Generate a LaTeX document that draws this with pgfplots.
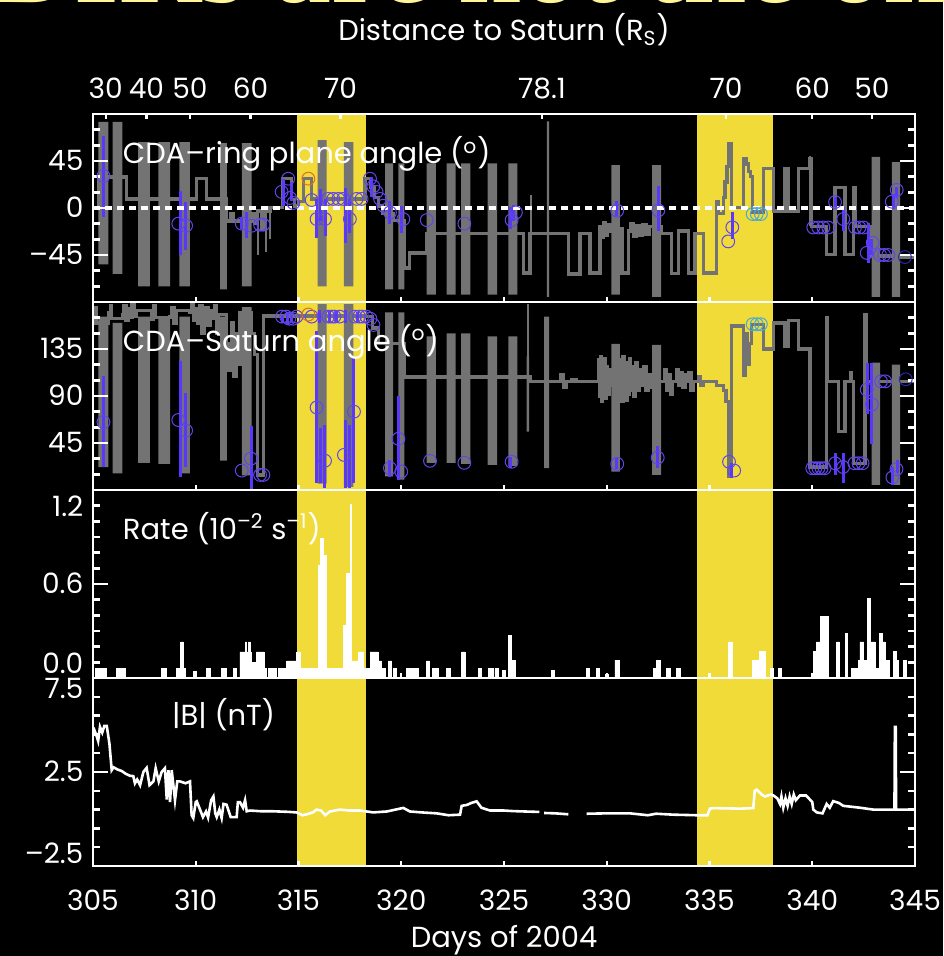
\documentclass[border=0pt]{standalone}
\usepackage{fontspec}
\setmainfont{Poppins}
\newfontfamily\titlefont{Liberation Serif}
\usepackage{pgfplots}
\pgfplotsset{compat=1.18}

\definecolor{band}{RGB}{241,219,56}
\definecolor{gr}{RGB}{115,115,115}
\definecolor{bl}{RGB}{90,55,250}
\definecolor{cb}{RGB}{95,70,235}
\definecolor{orng}{RGB}{225,110,40}
\definecolor{cyn}{RGB}{70,170,215}
\definecolor{navy}{RGB}{40,40,170}
\definecolor{ttl}{RGB}{255,245,150}

\newcommand\tickfont{\fontsize{14}{16}\selectfont}
\newcommand\labfont{\fontsize{14.5}{17}\selectfont}
\newcommand\degsym{(\textsuperscript{o})}

\pgfplotsset{
  panel/.style={
    scale only axis, width=411pt, height=94pt,
    xmin=305, xmax=345,
    axis on top,
    axis line style={white, line width=1.2pt},
    tick style={white, line width=1.2pt},
    tick align=inside,
    major tick length=7.5pt, minor tick length=3.5pt,
    xtick={305,310,...,345},
    xtick pos=left,
    xtick style={/pgfplots/major tick length=2.5pt},
    xticklabels={},
    yticklabel pos=left,
    tick label style={white, font=\tickfont},
    yticklabel style={anchor=base east, yshift=-4.9pt, xshift=-1.3pt},
    anchor=south west,
  },
  circ/.style={only marks, mark=o, mark size=3.2pt, mark options={line width=0.5pt}},
}

\begin{document}
\begin{tikzpicture}[x=1pt,y=1pt]
\useasboundingbox (0,0) rectangle (471.5,478);
\fill[black] (0,0) rectangle (471.5,478);
\node[anchor=base west, text=ttl, font=\titlefont\bfseries\fontsize{57}{60}\selectfont, inner sep=0pt] at (-4,476.5) {DIRs are not the only};

% ---------------- Panel 1: CDA-ring plane angle
\begin{axis}[panel, at={(46.5pt,327pt)}, ymin=-90, ymax=90,
  ytick={-90,-45,0,45,90}, yticklabels={{},–45,0,45,{}}, minor y tick num=2]
\addplot[fill=band, draw=none] coordinates {(314.93,-90)(318.28,-90)(318.28,90)(314.93,90)};
\addplot[fill=band, draw=none] coordinates {(334.39,-90)(338.09,-90)(338.09,90)(334.39,90)};
\addplot[fill=gr, draw=none, unbounded coords=jump] coordinates {
(305.26,-54)(305.75,-54)(305.75,82.5)(305.26,82.5)(305.26,nan)
(305.96,-63)(306.43,-63)(306.43,82.5)(305.96,82.5)(305.96,nan)
(307.20,-75)(307.77,-75)(307.77,63)(307.20,63)(307.20,nan)
(308.18,-75)(308.75,-75)(308.75,63)(308.18,63)(308.18,nan)
(309.20,-75)(309.72,-75)(309.72,63)(309.20,63)(309.20,nan)
(311.18,-78)(311.51,-78)(311.51,62)(311.18,62)(311.18,nan)
(312.24,-75)(312.72,-75)(312.72,62)(312.24,62)(312.24,nan)
(315.93,-75)(316.37,-75)(316.37,65)(315.93,65)(315.93,nan)
(317.21,-75)(317.67,-75)(317.67,63)(317.21,63)(317.21,nan)
(319.21,-78)(319.61,-78)(319.61,42.6)(319.21,42.6)(319.21,nan)
(319.86,-78)(320.15,-78)(320.15,42.6)(319.86,42.6)(319.86,nan)
(321.24,-83)(321.68,-83)(321.68,42.6)(321.24,42.6)(321.24,nan)
(322.21,-83)(322.65,-83)(322.65,42.6)(322.21,42.6)(322.21,nan)
(322.91,-83)(323.36,-83)(323.36,42.6)(322.91,42.6)(322.91,nan)
(324.20,-83)(324.66,-83)(324.66,42.6)(324.20,42.6)(324.20,nan)
(325.21,-83)(325.65,-83)(325.65,42.6)(325.21,42.6)(325.21,nan)
(327.08,-85)(327.20,-85)(327.20,82.9)(327.08,82.9)(327.08,nan)
(330.22,-83)(330.64,-83)(330.64,41)(330.22,41)(330.22,nan)
(332.21,-85)(332.65,-85)(332.65,41)(332.21,41)(332.21,nan)
(342.89,-85)(343.30,-85)(343.30,49)(342.89,49)(342.89,nan)
(343.87,-85)(344.27,-85)(344.27,44)(343.87,44)
};
\addplot[gr, line width=1.7pt, const plot] coordinates {
(305.00,0)(305.26,29.6)(306.64,8.7)(310.05,28)(310.53,8.7)(311.51,-12.3)(311.70,-5)(311.83,-12.3)
(312.72,-5)(312.85,-15)(313.00,-3)(313.20,-20)(313.35,-3)(313.61,0.6)(314.23,28)(314.67,8)(314.80,2)
(315.00,6)(315.23,28)(315.64,8.7)(318.24,28)(318.50,20)(318.70,10)(318.90,2)(319.10,-5)(319.61,-12)
(320.15,-57.5)(320.40,-43)(321.24,-24.6)(325.67,-24.6)(325.94,-62.3)(326.27,-24.6)(327.20,-24.6)
(328.13,-63.3)(328.70,-24.6)(329.18,-62.3)(329.67,-18)(329.75,-28)(329.85,-14)(329.95,-26)(330.05,-16)
(330.15,-22)(330.64,-20)(330.75,-62.3)(331.05,-22)(331.15,-15)(331.30,-27)(331.45,-17)(331.60,-26)
(331.75,-16)(331.90,-25)(332.05,-18)(332.64,-24.6)(333.16,-63)(333.48,-22)(333.97,-62.3)(334.29,-24.6)
(334.70,-62.3)(335.35,6.4)(335.43,-5)(335.67,10)(335.75,25)(335.85,40)(335.95,62)(336.08,0.6)
(336.65,47.4)(336.80,42)(336.90,35)(337.00,30)(337.10,-4)(337.62,37.7)(338.11,-3)(338.68,37.7)
(338.84,-3)(339.33,37.7)(339.89,47)(339.97,-17.5)(340.70,-44.5)(341.11,19.4)(341.59,-44.5)
(342.00,19.4)(342.11,-17.5)(342.89,-46)(344.27,-47)(345.00,-47)
};
\addplot[gr, line width=1pt, unbounded coords=jump] coordinates {
(305.02,-20)(305.02,8)(305.02,nan)(313.05,-45)(313.05,-5)(313.05,nan)(313.40,-42)(313.40,-5)(313.40,nan)
(313.62,-30)(313.62,0)(313.62,nan)(326.30,-62)(326.30,12)(326.30,nan)(339.90,-17)(339.90,50)
};
\addplot[bl, line width=1.5pt, unbounded coords=jump] coordinates {
(305.51,-8.4)(305.51,69)(305.51,nan)(309.28,-45.2)(309.28,15.8)(309.28,nan)(309.48,-40.7)(309.48,5.4)(309.48,nan)
(312.24,-20)(312.24,-10)(312.24,nan)(312.48,-28.5)(312.48,-4.3)(312.48,nan)(314.26,2.2)(314.26,28)(314.26,nan)
(314.67,7)(314.67,24.8)(314.67,nan)(315.88,-28.5)(315.88,8.7)(315.88,nan)(316.09,-12.3)(316.09,18.4)(316.09,nan)
(316.29,-26.8)(316.29,8.7)(316.29,nan)(317.30,-33.3)(317.30,19.4)(317.30,nan)(317.48,-23.7)(317.48,8.7)(317.48,nan)
(318.56,10.3)(318.56,29.6)(318.56,nan)(319.45,-15.5)(319.45,7)(319.45,nan)(320.02,-23.6)(320.02,2.2)(320.02,nan)
(325.32,-20.3)(325.32,0.6)(325.32,nan)(325.45,-12)(325.45,3)(325.45,nan)(330.48,-7.5)(330.48,6.4)(330.48,nan)
(332.51,-22)(332.51,20.6)(332.51,nan)(336.11,-30)(336.11,-4.3)(336.11,nan)(341.11,0.6)(341.11,10.3)(341.11,nan)
(341.51,-22)(341.51,0.6)(341.51,nan)(342.73,-52.7)(342.73,-14)(342.73,nan)(342.89,-45)(342.89,-30)(342.89,nan)
(343.94,-1)(343.94,13.5)(343.94,nan)(344.11,10)(344.11,20)
};
\addplot[circ, cb] coordinates {
(305.51,30.6)(309.15,-15)(309.53,-17)(312.24,-15)(312.72,-17)(313.13,-16)(313.29,-16)
(314.18,15.4)(314.5,28)(314.59,9.6)(314.75,4.8)(315.64,7.6)(316.45,8.7)(316.69,8.7)(316.94,8.7)
(317.18,8.7)(317.83,8.7)(318.07,8.7)(315.88,-10.6)(316.29,-10.6)(317.5,-10.6)
(318.48,28)(318.64,20.7)(318.8,15.4)(318.97,8.7)(319.13,2.2)(319.45,-4.3)
(320.1,-10.7)(321.24,-11.6)(323.07,-15)(325.37,-11.6)(325.58,-4.3)(330.51,-2.6)(332.51,-2.3)
(335.91,-32)(336.11,-18.5)(340.05,-18.7)(340.29,-18.7)(340.54,-18.7)(340.78,-18.7)
(341.11,5.7)(341.51,-10.6)(342.08,-18.7)(342.3,-18.7)(342.5,-18.7)(342.65,-43)(342.94,-33.4)
(343.3,-45)(343.5,-45)(343.7,-45)(343.87,6)(344.11,17.3)
};
\addplot[circ, orng] coordinates {(315.48,28.1)};
\addplot[circ, cyn] coordinates {(337.1,-5.8)(337.3,-5.8)(337.5,-5.8)};
\addplot[circ, navy] coordinates {(344.51,-47)};
\addplot[white, line width=1.6pt, dash pattern=on 3.5pt off 2.5pt] coordinates {(305,0)(345,0)};
\node[anchor=base west, white, font=\labfont, inner sep=0pt] at (axis cs:306.44,42.6) {CDA–ring plane angle \degsym};
\end{axis}

% top distance axis
\begin{axis}[scale only axis, width=411pt, height=94pt, at={(46.5pt,327pt)}, anchor=south west,
  xmin=305, xmax=345, ymin=0, ymax=1, hide y axis, axis x line*=top,
  axis line style={white, line width=1.2pt},
  tick align=inside,
  xtick={305.62,307.6,309.72,312.67,317.05,326.85,335.8,340.0,342.9},
  xticklabels={30,40,50,60,70,78.1,70,60,50},
  xtick style={white, line width=1.2pt, /pgfplots/major tick length=2.5pt},
  xticklabel style={white, font=\tickfont, anchor=base, yshift=7.5pt},
  xlabel={Distance to Saturn (R\textsubscript{S})},
  xlabel style={white, font=\labfont, at={(axis description cs:0.5,1)}, anchor=base, yshift=36.5pt}]
\addplot[draw=none] coordinates {(305,0.5)};
\end{axis}

% ---------------- Panel 2: CDA-Saturn angle
\begin{axis}[panel, at={(46.5pt,233pt)}, ymin=0, ymax=180,
  ytick={0,45,90,135,180}, yticklabels={{},45,90,135,{}}, minor y tick num=2]
\addplot[fill=band, draw=none] coordinates {(314.93,0)(318.28,0)(318.28,180)(314.93,180)};
\addplot[fill=band, draw=none] coordinates {(334.39,0)(338.09,0)(338.09,180)(334.39,180)};
\addplot[fill=gr, draw=none, unbounded coords=jump] coordinates {
(305.26,22)(305.75,22)(305.75,166)(305.26,166)(305.26,nan)
(305.96,16)(306.43,16)(306.43,160)(305.96,160)(305.96,nan)
(307.20,26)(307.77,26)(307.77,166)(307.20,166)(307.20,nan)
(308.18,25)(308.75,25)(308.75,166)(308.18,166)(308.18,nan)
(309.20,16)(309.72,16)(309.72,166)(309.20,166)(309.20,nan)
(311.18,28)(311.51,28)(311.51,166)(311.18,166)(311.18,nan)
(312.24,14)(312.72,14)(312.72,175)(312.24,175)(312.24,nan)
(315.93,6)(316.37,6)(316.37,178)(315.93,178)(315.93,nan)
(317.21,3)(317.67,3)(317.67,178)(317.21,178)(317.21,nan)
(319.21,13)(319.61,13)(319.61,170)(319.21,170)(319.21,nan)
(319.86,10)(320.15,10)(320.15,170)(319.86,170)(319.86,nan)
(321.24,26)(321.68,26)(321.68,147)(321.24,147)(321.24,nan)
(322.21,26)(322.65,26)(322.65,150)(322.21,150)(322.21,nan)
(322.91,25)(323.36,25)(323.36,150)(322.91,150)(322.91,nan)
(324.20,24)(324.66,24)(324.66,147)(324.20,147)(324.20,nan)
(325.21,23)(325.65,23)(325.65,147)(325.21,147)(325.21,nan)
(326.10,56)(326.22,56)(326.22,128)(326.10,128)(326.10,nan)
(326.95,21)(327.19,21)(327.19,166)(326.95,166)(326.95,nan)
(330.22,17.6)(330.64,17.6)(330.64,140)(330.22,140)(330.22,nan)
(332.21,14.4)(332.65,14.4)(332.65,139)(332.21,139)(332.21,nan)
(342.89,4.8)(343.30,4.8)(343.30,122)(342.89,122)(342.89,nan)
(343.87,4.8)(344.27,4.8)(344.27,120)(343.87,120)
};
\addplot[gr, line width=1.7pt, const plot] coordinates {
(305.00,165)(305.08,175)(305.15,160)(305.75,170)(305.85,176)(305.90,164)(306.43,168)(306.50,176)(306.60,162)
(306.70,174)(306.80,165)(306.90,177)(307.00,166)(307.10,172)(307.77,172)(307.85,163)(307.95,176)(308.05,165)
(308.75,166)(308.85,175)(308.95,160)(309.05,172)(309.72,170)(309.80,178)(309.90,162)(310.00,174)(310.10,160)
(310.20,176)(310.30,150)(310.40,165)(310.50,175)(310.60,158)(310.70,172)(310.80,164)(310.90,176)(311.00,150)
(311.10,168)(311.51,140)(311.60,115)(311.75,160)(311.85,109)(311.95,150)(312.05,120)(312.15,170)(312.72,150)
(312.85,130)(313.00,14.4)(313.30,166.7)(318.24,166)(318.60,155)(318.90,140)(319.61,140)(320.15,108)
(326.27,104)(327.20,104)(327.75,110)(327.90,98)(328.05,104)(328.30,106)(328.50,104)
(329.60,125)(329.65,90)(329.70,128)(329.75,85)(329.80,120)(329.85,95)(329.90,126)(329.95,88)(330.00,118)
(330.05,92)(330.10,115)(330.15,100)(330.70,125)(330.75,85)(330.80,128)(330.85,90)(330.90,122)(330.95,86)
(331.00,120)(331.05,92)(331.10,126)(331.15,95)(331.20,118)(331.30,90)(331.40,122)(331.50,95)(331.60,115)
(331.70,100)(331.80,118)(331.90,95)(332.00,110)(332.10,98)(332.20,104)(332.80,115)(332.90,95)(333.00,110)
(333.10,92)(333.20,104)(333.40,115)(333.50,100)(333.60,112)(333.70,98)(333.80,110)(333.90,104)(334.00,112)
(334.10,95)(334.20,104)(334.45,108)(334.55,100)(334.70,104)(335.35,100)(335.67,95)(335.80,85)(335.92,12.8)
(336.08,157)(336.65,110)(336.75,150)(336.85,120)(336.95,140)(337.05,158.7)(337.62,135)(338.11,160)
(338.67,138)(338.84,162)(339.33,135)(339.89,22)(340.70,165)(340.74,104)(341.27,56)(341.59,104)(341.85,112)
(341.90,104)(342.00,25.6)(342.57,168)(342.65,104)(345.00,104)
};
\addplot[gr, line width=1pt] coordinates {(326.18,104)(326.18,178)};
\addplot[bl, line width=1.5pt, unbounded coords=jump] coordinates {
(305.51,22.4)(305.51,109)(305.51,nan)(309.28,12.8)(309.28,123.4)(309.28,nan)(309.48,22.4)(309.48,92.9)(309.48,nan)
(312.69,0.9)(312.69,61.5)(312.69,nan)(315.88,6.4)(315.88,152)(315.88,nan)(316.05,6.4)(316.05,59.3)(316.05,nan)
(316.26,1.6)(316.26,62.5)(316.26,nan)(317.30,1.6)(317.30,67)(317.30,nan)(317.48,1.6)(317.48,62.5)(317.48,nan)
(317.67,6.4)(317.67,126.6)(317.67,nan)(319.86,9.6)(319.86,89.7)(319.86,nan)(319.45,12.8)(319.45,29)(319.45,nan)
(325.32,20.8)(325.32,32)(325.32,nan)(330.48,19.7)(330.48,31)(330.48,nan)(332.48,20.8)(332.48,41.7)(332.48,nan)
(336.08,11.2)(336.08,25.6)(336.08,nan)(341.11,14.4)(341.11,35.3)(341.11,nan)(341.51,6.4)(341.51,35.3)(341.51,nan)
(342.69,72.4)(342.69,122)(342.69,nan)(342.89,43.6)(342.89,122)(342.89,nan)(343.90,4.8)(343.90,22.4)(343.90,nan)
(344.14,16)(344.14,28.8)(344.14,nan)
(314.20,160)(314.20,168)(314.20,nan)(314.45,158)(314.45,170)(314.45,nan)(314.67,160)(314.67,168)(314.67,nan)
(316.00,160)(316.00,172)(316.00,nan)(316.50,160)(316.50,172)(316.50,nan)(316.85,160)(316.85,172)(316.85,nan)
(317.30,160)(317.30,172)(317.30,nan)(317.85,160)(317.85,170)
};
\addplot[circ, cb] coordinates {
(305.51,65)(309.15,67)(309.53,57)(312.24,18.6)(312.69,30)(313.13,14.4)(313.29,14.4)
(314.2,166)(314.4,166)(314.55,164)(314.75,164)(314.9,166)(315.64,166)(316.45,166)(316.6,166)(316.75,166)
(317.0,166)(317.75,166)(317.95,166)(318.1,166)(318.3,166)(318.5,164)(318.65,158)
(315.88,79)(316.29,28)(317.21,33.6)(317.7,75)
(319.86,49)(319.45,21)(320.0,17.6)(321.4,27.9)(323.07,26)(325.37,27)(330.51,25)
(332.48,31)(335.95,27)(336.2,18.6)
(340.0,20.8)(340.15,20.8)(340.3,20.8)(340.45,20.8)(340.6,20.8)
(341.11,25.6)(341.5,22)(342.05,25.6)(342.25,25.6)(342.45,25.6)
(342.65,96)(342.9,82)(343.35,104)(343.55,104)(343.9,12)(344.1,20)
};
\addplot[circ, orng] coordinates {(315.48,168)};
\addplot[circ, cyn] coordinates {(337.1,158.7)(337.3,158.7)(337.5,158.7)};
\addplot[circ, navy] coordinates {(344.55,106)};
\node[anchor=base west, white, font=\labfont, inner sep=0pt] at (axis cs:306.44,133) {CDA–Saturn angle \degsym};
\end{axis}

% ---------------- Panel 3: Rate
\begin{axis}[panel, at={(46.5pt,139pt)}, ymin=0, ymax=1.2,
  ytick={0,0.6,1.2}, yticklabels={\raisebox{7pt}{0.0},0.6,\raisebox{-8.5pt}{1.2}}, minor y tick num=5]
\addplot[fill=band, draw=none] coordinates {(314.93,0)(318.28,0)(318.28,1.2)(314.93,1.2)};
\addplot[fill=band, draw=none] coordinates {(334.39,0)(338.09,0)(338.09,1.2)(334.39,1.2)};
\addplot[const plot, fill=white, draw=white, line width=0.4pt] coordinates {
(305.00,0)(305.10,0.06)(305.67,0)(306.15,0.06)(306.56,0)(308.34,0.06)(308.55,0)(309.07,0.06)(309.27,0.23)
(309.40,0.06)(309.48,0)(309.88,0.04)(310.05,0)(310.53,0.06)(310.73,0)(311.26,0.06)(311.50,0)(311.83,0.06)
(311.99,0)(312.15,0.166)(312.40,0.23)(312.48,0.166)(312.56,0.23)(312.64,0.166)(312.72,0.1)(312.96,0.166)
(313.32,0.06)(313.45,0)(313.53,0.06)(313.94,0)(314.02,0.06)(314.43,0.109)(314.91,0.166)(315.07,0.06)
(315.96,0.72)(316.05,0.89)(316.21,0.78)(316.38,0.06)(317.19,0.336)(317.35,0.666)(317.51,1.11)(317.56,0.109)
(317.91,0.166)(318.15,0.06)(318.48,0.166)(318.88,0.109)(319.04,0.06)(319.21,0)(319.37,0.109)(319.53,0)
(319.61,0.06)(319.77,0)(320.26,0.06)(320.83,0)(321.24,0.109)(321.37,0)(321.53,0.06)(321.80,0)(322.21,0.06)
(322.37,0)(322.94,0.166)(323.10,0)(323.75,0.06)(323.90,0)(324.24,0.06)(324.48,0)(324.56,0.06)(324.72,0)
(324.94,0.05)(325.05,0)(325.21,0.27)(325.37,0.114)(325.54,0)(327.32,0.05)(327.44,0)(329.00,0.06)(329.15,0)
(329.48,0.06)(329.64,0)(329.95,0.02)(330.08,0)(330.40,0.114)(330.61,0)(332.27,0.06)(332.43,0.114)(332.59,0)
(332.92,0.06)(333.08,0)(333.40,0.06)(333.56,0)(334.94,0.02)(335.05,0)(335.92,0.23)(336.11,0)(337.10,0.114)
(337.43,0.17)(337.70,0)(337.95,0.06)(338.11,0)(338.35,0.06)(338.52,0)(339.98,0.02)(340.06,0.17)(340.22,0.23)
(340.38,0.39)(340.79,0)(341.19,0.23)(341.32,0)(341.60,0.283)(341.71,0)(341.92,0.06)(342.24,0.114)(342.32,0.23)
(342.49,0.114)(342.65,0.06)(342.70,0.507)(342.81,0.23)(343.06,0.06)(343.22,0)(343.27,0.283)(343.41,0.23)
(343.54,0.114)(343.75,0)(343.94,0.17)(344.07,0.114)(344.19,0)(344.43,0.114)(344.56,0)(345.00,0)
} \closedcycle;
\node[anchor=base west, white, font=\labfont, inner sep=0pt] at (axis cs:306.44,0.885) {Rate (10\textsuperscript{–2} s\textsuperscript{–1})};
\end{axis}

% ---------------- Panel 4: |B|
\begin{axis}[panel, at={(46.5pt,45pt)}, ymin=-2.5, ymax=7.5,
  ytick={-2.5,2.5,7.5}, yticklabels={\raisebox{6pt}{–2.5},2.5,\raisebox{-5.5pt}{7.5}}, minor y tick num=4,
  xticklabels={305,310,315,320,325,330,335,340,345},
  xticklabel style={anchor=base, yshift=-22.5pt},
  xlabel={Days of 2004},
  xlabel style={white, font=\labfont, at={(axis description cs:0.5,0)}, anchor=base, yshift=-40.5pt}]
\addplot[fill=band, draw=none] coordinates {(314.93,-2.5)(318.28,-2.5)(318.28,7.5)(314.93,7.5)};
\addplot[fill=band, draw=none] coordinates {(334.39,-2.5)(338.09,-2.5)(338.09,7.5)(334.39,7.5)};
\addplot[white, line width=1.3pt, unbounded coords=jump] coordinates {
(305.02,4.86)(305.15,4.5)(305.25,4.15)(305.34,4.9)(305.45,4.6)(305.55,4.95)(305.67,4.95)(305.80,4.0)(305.91,2.6)
(306.0,2.75)(306.2,2.63)(306.4,2.55)(306.6,2.4)(306.8,2.3)(306.96,2.28)(307.04,1.9)(307.15,2.1)(307.29,1.8)
(307.45,2.5)(307.61,2.72)(307.75,1.8)(307.94,2.0)(308.05,2.7)(308.2,2.0)(308.34,2.5)(308.5,2.7)(308.59,1.03)
(308.67,2.6)(308.75,0.9)(308.83,2.6)(308.99,1.0)(309.1,2.0)(309.23,2.0)(309.5,1.9)(309.72,2.0)(309.8,0.2)
(309.88,0.05)(310.0,0.9)(310.05,0.94)(310.21,0.5)(310.35,0.1)(310.5,0.4)(310.6,0.08)(310.75,1.0)(310.86,1.2)
(310.95,0.3)(311.02,0.1)(311.15,0.5)(311.26,0.05)(311.35,0.8)(311.5,0.76)(311.7,0.1)(311.99,0.1)(312.05,0.9)
(312.15,0.9)(312.3,0.6)(312.4,1.0)(312.48,0.41)(312.64,0.45)(313.2,0.41)(313.77,0.41)(314.5,0.38)(314.91,0.35)
(315.2,0.2)(315.4,0.25)(315.7,0.35)(315.88,0.5)(316.1,0.45)(316.3,0.2)(316.53,0.4)(317.02,0.5)(317.5,0.45)
(317.99,0.45)(318.64,0.35)(319.3,0.4)(320.1,0.59)(320.42,0.4)(321.0,0.35)(321.72,0.3)(322.3,0.2)(322.86,0.23)
(322.94,0.7)(323.2,0.75)(323.4,0.85)(323.67,0.94)(323.9,0.6)(324.32,0.45)(325.0,0.45)(325.45,0.42)(326.0,0.4)
(326.59,0.38)(326.72,0.38)(326.8,nan)(326.95,0.32)(327.5,0.3)(328.13,0.25)(328.5,nan)(329.02,0.28)(330.0,0.3)
(331.13,0.3)(332.0,0.2)(332.4,0.28)(333.24,0.23)(334.38,0.2)(334.9,0.2)(335.02,0.55)(335.19,0.58)(336.5,0.55)
(337.13,0.58)(337.2,1.5)(337.29,1.56)(337.45,1.4)(337.54,1.3)(337.7,1.2)(338.0,1.3)(338.11,1.25)(338.3,1.1)
(338.43,0.8)(338.5,1.2)(338.59,0.6)(338.7,1.1)(338.8,0.7)(338.9,1.2)(339.0,0.8)(339.1,1.3)(339.2,1.0)
(339.4,1.25)(339.7,1.25)(340.0,0.9)(340.05,0.5)(340.22,0.35)(340.5,0.3)(340.70,0.8)(340.85,0.6)(341.02,0.95)
(341.3,0.85)(341.51,0.7)(342.32,0.6)(342.97,0.5)(344.0,0.5)(344.02,4.9)(344.06,4.9)(344.08,0.5)(344.92,0.5)
};
\node[anchor=base west, white, font=\labfont, inner sep=0pt] at (axis cs:308.83,4.95) {|B| (nT)};
\end{axis}
\end{tikzpicture}
\end{document}
